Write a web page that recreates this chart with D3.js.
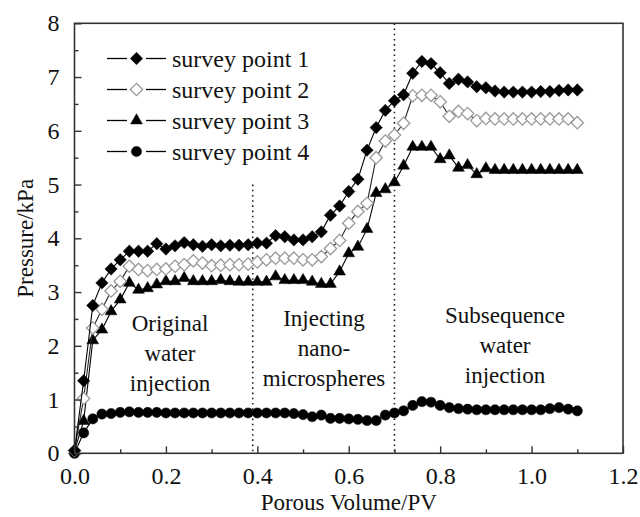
<!DOCTYPE html>
<html>
<head>
<meta charset="utf-8">
<script src="https://cdn.jsdelivr.net/npm/d3@7"></script>
<style>
  body { margin: 0; background: #fff; }
  svg text { font-family: "Liberation Serif", "Times New Roman", serif; fill: #111; }
</style>
</head>
<body>
<svg id="chart" width="640" height="517"></svg>
<script>
// porous volume (PV) for every sample
const pv = [0, 0.02, 0.04, 0.06, 0.08, 0.10, 0.12, 0.14, 0.16, 0.18,
  0.20, 0.22, 0.24, 0.26, 0.28, 0.30, 0.32, 0.34, 0.36, 0.38,
  0.40, 0.42, 0.44, 0.46, 0.48, 0.50, 0.52, 0.54, 0.56, 0.58,
  0.60, 0.62, 0.64, 0.66, 0.68, 0.70, 0.72, 0.74, 0.76, 0.78,
  0.80, 0.82, 0.84, 0.86, 0.88, 0.90, 0.92, 0.94, 0.96, 0.98,
  1.00, 1.02, 1.04, 1.06, 1.08, 1.10];

const point1 = [0.05, 1.35, 2.75, 3.17, 3.43, 3.60, 3.76, 3.76, 3.76, 3.90,
  3.80, 3.86, 3.92, 3.88, 3.85, 3.88, 3.86, 3.87, 3.87, 3.88,
  3.91, 3.91, 4.05, 4.03, 3.97, 3.97, 4.03, 4.12, 4.43, 4.60,
  4.87, 5.10, 5.64, 6.06, 6.38, 6.56, 6.67, 7.07, 7.29, 7.25,
  7.08, 6.88, 6.96, 6.91, 6.82, 6.80, 6.74, 6.72, 6.72, 6.72,
  6.72, 6.73, 6.73, 6.75, 6.76, 6.76];

const point2 = [0.05, 1.02, 2.33, 2.68, 3.02, 3.20, 3.48, 3.42, 3.40, 3.42,
  3.43, 3.48, 3.51, 3.58, 3.54, 3.49, 3.50, 3.51, 3.51, 3.52,
  3.56, 3.60, 3.63, 3.63, 3.63, 3.60, 3.60, 3.66, 3.81, 3.96,
  4.28, 4.50, 4.65, 5.50, 5.81, 5.92, 6.14, 6.65, 6.66, 6.66,
  6.54, 6.27, 6.36, 6.32, 6.19, 6.23, 6.22, 6.22, 6.22, 6.22,
  6.22, 6.22, 6.22, 6.22, 6.22, 6.15];

const point3 = [0.05, 0.60, 2.10, 2.30, 2.64, 2.86, 3.17, 3.04, 3.07, 3.14,
  3.20, 3.20, 3.26, 3.20, 3.20, 3.20, 3.22, 3.20, 3.19, 3.19,
  3.19, 3.19, 3.29, 3.22, 3.22, 3.22, 3.19, 3.15, 3.15, 3.38,
  3.72, 3.84, 4.17, 4.84, 4.91, 5.04, 5.35, 5.70, 5.70, 5.70,
  5.47, 5.54, 5.31, 5.36, 5.19, 5.30, 5.27, 5.27, 5.27, 5.27,
  5.27, 5.27, 5.27, 5.27, 5.27, 5.27];

const point4 = [0.00, 0.38, 0.64, 0.73, 0.74, 0.76, 0.77, 0.76, 0.76, 0.76,
  0.75, 0.75, 0.75, 0.75, 0.75, 0.75, 0.75, 0.75, 0.75, 0.75,
  0.75, 0.75, 0.75, 0.75, 0.74, 0.72, 0.68, 0.71, 0.65, 0.65,
  0.64, 0.63, 0.61, 0.61, 0.71, 0.75, 0.79, 0.89, 0.96, 0.95,
  0.89, 0.85, 0.83, 0.82, 0.81, 0.81, 0.81, 0.81, 0.81, 0.81,
  0.81, 0.81, 0.83, 0.85, 0.82, 0.79];

const seriesNames = ["survey point 1", "survey point 2", "survey point 3", "survey point 4"];
const xTicks = [0.0, 0.2, 0.4, 0.6, 0.8, 1.0, 1.2];
const yTicks = [0, 1, 2, 3, 4, 5, 6, 7, 8];
const stageLines = [0.39, 0.70];
const stageTop = [5, 8];
const stageLabels = [
  ["Original", "water", "injection"],
  ["Injecting", "nano-", "microspheres"],
  ["Subsequence", "water", "injection"]
];

const svg = d3.select("#chart");
const plotL = 74.5, plotR = 623, plotT = 23.3, plotB = 453.3;

const x = d3.scaleLinear().domain([0, 1.2]).range([plotL, plotR]);
const y = d3.scaleLinear().domain([0, 8]).range([plotB, plotT]);

// marker styles per series
const styles = [
  { shape: "diamond", fill: "#000", stroke: "#000", line: "#000" },
  { shape: "diamond", fill: "#fff", stroke: "#9a9a9a", line: "#222" },
  { shape: "triangle", fill: "#000", stroke: "#000", line: "#000" },
  { shape: "circle", fill: "#000", stroke: "#000", line: "#000" }
];

function markerPath(shape) {
  if (shape === "diamond") return "M0,-6.2L6.2,0L0,6.2L-6.2,0Z";
  if (shape === "triangle") return d3.symbol(d3.symbolTriangle, 60)();
  return d3.symbol(d3.symbolCircle, 82)();
}

// stage separators
stageLines.forEach((v, i) => {
  svg.append("line")
    .attr("x1", x(v)).attr("x2", x(v))
    .attr("y1", y(stageTop[i])).attr("y2", y(0))
    .attr("stroke", "#222").attr("stroke-width", 1.6)
    .attr("stroke-dasharray", "1.6,3.6");
});

// stage labels
const labelPos = [
  { cx: 170, y0: 331 },
  { cx: 324, y0: 326 },
  { cx: 505, y0: 323 }
];
stageLabels.forEach((lines, i) => {
  const t = svg.append("text")
    .attr("text-anchor", "middle")
    .attr("font-size", 23);
  lines.forEach((s, j) => {
    t.append("tspan").attr("x", labelPos[i].cx).attr("y", labelPos[i].y0 + j * 30).text(s);
  });
});

// series
const allSeries = [point1, point2, point3, point4];
const line = d3.line().x(d => x(d[0])).y(d => y(d[1]));
const order = [3, 2, 1, 0];
order.forEach(k => {
  const pts = pv.map((v, i) => [v, allSeries[k][i]]);
  const g = svg.append("g");
  g.append("path")
    .attr("d", line(pts))
    .attr("fill", "none")
    .attr("stroke", styles[k].line)
    .attr("stroke-width", 1.1);
  g.selectAll("path.m")
    .data(pts)
    .join("path")
    .attr("class", "m")
    .attr("d", markerPath(styles[k].shape))
    .attr("transform", d => `translate(${x(d[0])},${y(d[1])})`)
    .attr("fill", styles[k].fill)
    .attr("stroke", styles[k].stroke)
    .attr("stroke-width", k === 1 ? 1.3 : 0.5);
});

// frame
svg.append("rect")
  .attr("x", plotL).attr("y", plotT)
  .attr("width", plotR - plotL).attr("height", plotB - plotT)
  .attr("fill", "none").attr("stroke", "#333").attr("stroke-width", 1.6);

// axes with inward ticks
const xAxis = d3.axisBottom(x).tickValues(xTicks).tickFormat(d3.format(".1f"))
  .tickSizeInner(-7).tickSizeOuter(0).tickPadding(14);
const gx = svg.append("g").attr("transform", `translate(0,${plotB})`).call(xAxis);
const xMinor = d3.axisBottom(x).tickValues([0.1, 0.3, 0.5, 0.7, 0.9, 1.1])
  .tickSize(-4).tickFormat("");
svg.append("g").attr("transform", `translate(0,${plotB})`).call(xMinor);

const yAxis = d3.axisLeft(y).tickValues(yTicks).tickFormat(d3.format("d"))
  .tickSizeInner(-7).tickSizeOuter(0).tickPadding(15);
const gy = svg.append("g").attr("transform", `translate(${plotL},0)`).call(yAxis);
const yMinor = d3.axisLeft(y).tickValues([0.5, 1.5, 2.5, 3.5, 4.5, 5.5, 6.5, 7.5])
  .tickSize(-4).tickFormat("");
svg.append("g").attr("transform", `translate(${plotL},0)`).call(yMinor);

svg.selectAll(".domain").remove();
svg.selectAll(".tick line").attr("stroke", "#333").attr("stroke-width", 1.4);
svg.selectAll(".tick text")
  .attr("font-size", 24)
  .attr("fill", "#111");
gx.selectAll(".tick text").attr("dy", "0.71em");

// axis titles
svg.append("text")
  .attr("x", (plotL + plotR) / 2).attr("y", 510)
  .attr("text-anchor", "middle").attr("font-size", 23)
  .text("Porous Volume/PV");
svg.append("text")
  .attr("transform", `translate(33,${(plotT + plotB) / 2}) rotate(-90)`)
  .attr("text-anchor", "middle").attr("font-size", 23)
  .text("Pressure/kPa");

// legend
const legY = [58.5, 89.5, 120.5, 151.5];
seriesNames.forEach((name, k) => {
  const g = svg.append("g").attr("transform", `translate(0,${legY[k]})`);
  g.append("line").attr("x1", 107).attr("x2", 127).attr("y1", 0).attr("y2", 0)
    .attr("stroke", "#000").attr("stroke-width", 1.3);
  g.append("line").attr("x1", 146).attr("x2", 166).attr("y1", 0).attr("y2", 0)
    .attr("stroke", "#000").attr("stroke-width", 1.3);
  g.append("path")
    .attr("d", markerPath(styles[k].shape))
    .attr("transform", "translate(136.5,0)")
    .attr("fill", styles[k].fill)
    .attr("stroke", styles[k].stroke)
    .attr("stroke-width", k === 1 ? 1.3 : 0.5);
  g.append("text").attr("x", 172).attr("y", 8).attr("font-size", 24).text(name);
});
</script>
</body>
</html>
